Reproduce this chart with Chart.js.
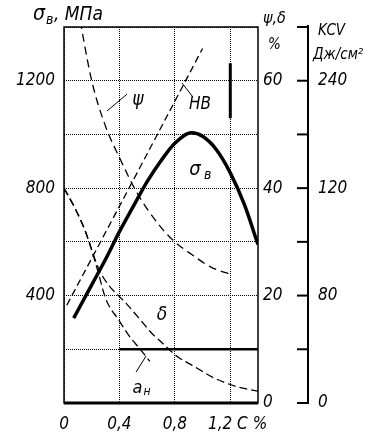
<!DOCTYPE html>
<html><head><meta charset="utf-8">
<script src="https://cdn.jsdelivr.net/npm/chart.js@4/dist/chart.umd.min.js"></script>
<style>html,body{margin:0;padding:0;background:#fff;overflow:hidden}canvas{display:block}</style>
</head><body>
<canvas id="c" width="388" height="439"></canvas>
<script>
// ---- tick labels ----
const carbonTicks = [0, 0.4, 0.8, 1.2];
const carbonTickText = ['0', '0,4', '0,8', '   1,2 C %'];
const sigmaTicks = [400, 800, 1200];
const pctTicks = [0, 20, 40, 60];
const kcvTicks = [0, 80, 160, 240];
const kcvTickText = ['0', '80', '120', '240'];

// ---- series (carbon %, value) ----
const sigmaC   = [0.07, 0.2, 0.3, 0.4, 0.5, 0.6, 0.7, 0.8, 0.92, 1.0, 1.1, 1.2, 1.3, 1.4];
const sigmaVal = [316, 440, 535, 638, 732, 824, 902, 967, 1006, 993, 943, 857, 741, 590];

const hbC   = [0.02, 0.5, 1.0];
const hbVal = [364, 830, 1320];

const psiC   = [0.1, 0.2, 0.3, 0.4, 0.53, 0.7, 0.8, 0.93, 1.06, 1.22];
const psiVal = [73.5, 60, 51.5, 45.7, 39, 32.7, 30, 27.5, 25.3, 23.8];

const deltaC   = [0, 0.08, 0.15, 0.2, 0.25, 0.32, 0.4, 0.45, 0.55, 0.64, 0.7, 0.82, 0.92, 1.08, 1.24, 1.4];
const deltaVal = [40, 36.2, 32.2, 28.5, 25, 22, 19.8, 18.5, 15.5, 12.8, 11.4, 8.6, 7.1, 4.7, 3.1, 2.2];

const kcvC   = [0, 0.08, 0.15, 0.2, 0.25, 0.3, 0.4, 0.47, 0.55, 0.62];
const kcvVal = [160, 145, 129, 114, 96, 78, 61, 50, 40, 31];

const FONT = '"DejaVu Sans Condensed", "DejaVu Sans", sans-serif';
const pts = (xs, ys) => xs.map((x, i) => ({x, y: ys[i]}));
const pick = (vals, texts) => v => { const i = vals.findIndex(t => Math.abs(t - v) < 1e-6); return i >= 0 ? texts[i] : ''; };

const lineDs = (label, data, axis, width, dash, mode) => ({
  label, data, yAxisID: axis, borderColor: '#000', backgroundColor: '#000',
  borderWidth: width, borderDash: dash, pointRadius: 0, tension: 0.35,
  cubicInterpolationMode: mode, fill: false
});

const annotate = {
  id: 'annotate',
  afterDraw(chart) {
    const {ctx, chartArea: a, scales} = chart;
    const X = v => scales.x.getPixelForValue(v), Y = v => scales.y.getPixelForValue(v);
    const seg = (x1, y1, x2, y2, w) => { ctx.lineWidth = w; ctx.beginPath(); ctx.moveTo(x1, y1); ctx.lineTo(x2, y2); ctx.stroke(); };
    ctx.save();
    ctx.strokeStyle = '#000'; ctx.fillStyle = '#000';
    // frame
    ctx.lineWidth = 1.5;
    ctx.strokeRect(a.left, a.top, a.right - a.left, a.bottom - a.top);
    seg(a.left, a.bottom, a.right, a.bottom, 3);
    seg(X(0.4), Y(200), a.right, Y(200), 2.5);
    seg(X(1.2), Y(1265), X(1.2), Y(1060), 3);
    // KCV axis tick marks (pointing left)
    const yk = scales.yk;
    yk.ticks.forEach(t => { const y = yk.getPixelForValue(t.value); seg(yk.left - 11, y, yk.left + 1, y, 2); });
    seg(yk.left, a.top - 2, yk.left, a.top, 2);
    // pointers
    seg(X(0.455), Y(1150), X(0.31), Y(1087), 1);
    seg(X(0.852), Y(1191), X(0.931), Y(1139), 1);
    seg(X(0.52), Y(115), X(0.592), Y(175), 1);
    // texts
    const txt = (s, x, y, size, align) => { ctx.font = 'italic ' + size + 'px ' + FONT; ctx.textAlign = align || 'left'; ctx.textBaseline = 'middle'; ctx.fillText(s, x, y); };
    txt('ψ', X(0.534), Y(1128), 19, 'center');
    txt('HB', X(0.981), Y(1110), 17, 'center');
    txt('σ', X(0.945), Y(868), 20, 'center');
    txt('в', X(0.945) + 9, Y(868) + 5, 14, 'left');
    txt('δ', X(0.707), Y(328), 19, 'center');
    txt('a', X(0.53), Y(56), 18, 'center');
    txt('н', X(0.53) + 6, Y(56) + 4, 12, 'left');
    // axis titles
    txt('σ', 33, 15, 21);
    txt('в', 46, 20, 14);
    txt(', МПа', 54, 15, 19);
    txt('ψ,δ', 263, 19, 16);
    txt('%', 268, 45, 15);
    txt('KCV', 318, 31, 15);
    txt('Дж/см²', 313, 55, 15);
    ctx.restore();
  }
};

new Chart(document.getElementById('c'), {
  type: 'line',
  data: {
    datasets: [
      lineDs('σв', pts(sigmaC, sigmaVal), 'y', 3.5, [], 'monotone'),
      lineDs('HB', pts(hbC, hbVal), 'y', 1.3, [7, 4], 'default'),
      lineDs('ψ', pts(psiC, psiVal), 'yp', 1.3, [8, 5], 'monotone'),
      lineDs('δ', pts(deltaC, deltaVal), 'yp', 1.3, [8, 4], 'monotone'),
      lineDs('aн', pts(kcvC, kcvVal), 'yk', 1.3, [8, 4], 'monotone')
    ]
  },
  options: {
    responsive: false, animation: false, devicePixelRatio: 1,
    layout: {padding: {top: 27, left: 0, right: 0, bottom: 0}},
    plugins: {legend: {display: false}, tooltip: {enabled: false}},
    scales: {
      x: {
        type: 'linear', min: 0, max: 1.4,
        afterFit: s => { s.height = 36; },
        grid: {color: '#000', lineWidth: 1, drawTicks: false},
        border: {display: false, dash: [1, 1]},
        ticks: {stepSize: 0.4, includeBounds: false, autoSkip: false, padding: 11, color: '#000',
                font: {family: FONT, size: 17, style: 'italic'}, maxRotation: 0,
                callback: pick(carbonTicks, carbonTickText)}
      },
      y: {
        position: 'left', min: 0, max: 1400,
        afterFit: s => { s.width = 64; },
        grid: {color: '#000', lineWidth: 1, drawTicks: false},
        border: {display: false, dash: [1, 1]},
        ticks: {stepSize: 200, padding: 9, autoSkip: false, color: '#000',
                font: {family: FONT, size: 17, style: 'italic'},
                callback: v => sigmaTicks.includes(v) ? String(v) : ''}
      },
      yp: {
        position: 'right', min: 0, max: 70, weight: 0,
        afterFit: s => { s.width = 50; },
        grid: {display: false, drawTicks: false},
        border: {display: false},
        ticks: {stepSize: 10, padding: 5, autoSkip: false, color: '#000',
                font: {family: FONT, size: 17, style: 'italic'},
                callback: v => pctTicks.includes(v) ? String(v) : ''}
      },
      yk: {
        position: 'right', min: 0, max: 280, weight: 1,
        afterFit: s => { s.width = 80; },
        grid: {display: false, drawTicks: false},
        border: {display: true, color: '#000', width: 2},
        ticks: {stepSize: 40, padding: 10, autoSkip: false, color: '#000',
                font: {family: FONT, size: 17, style: 'italic'},
                callback: pick(kcvTicks, kcvTickText)}
      }
    }
  },
  plugins: [annotate]
});
</script>
</body></html>
